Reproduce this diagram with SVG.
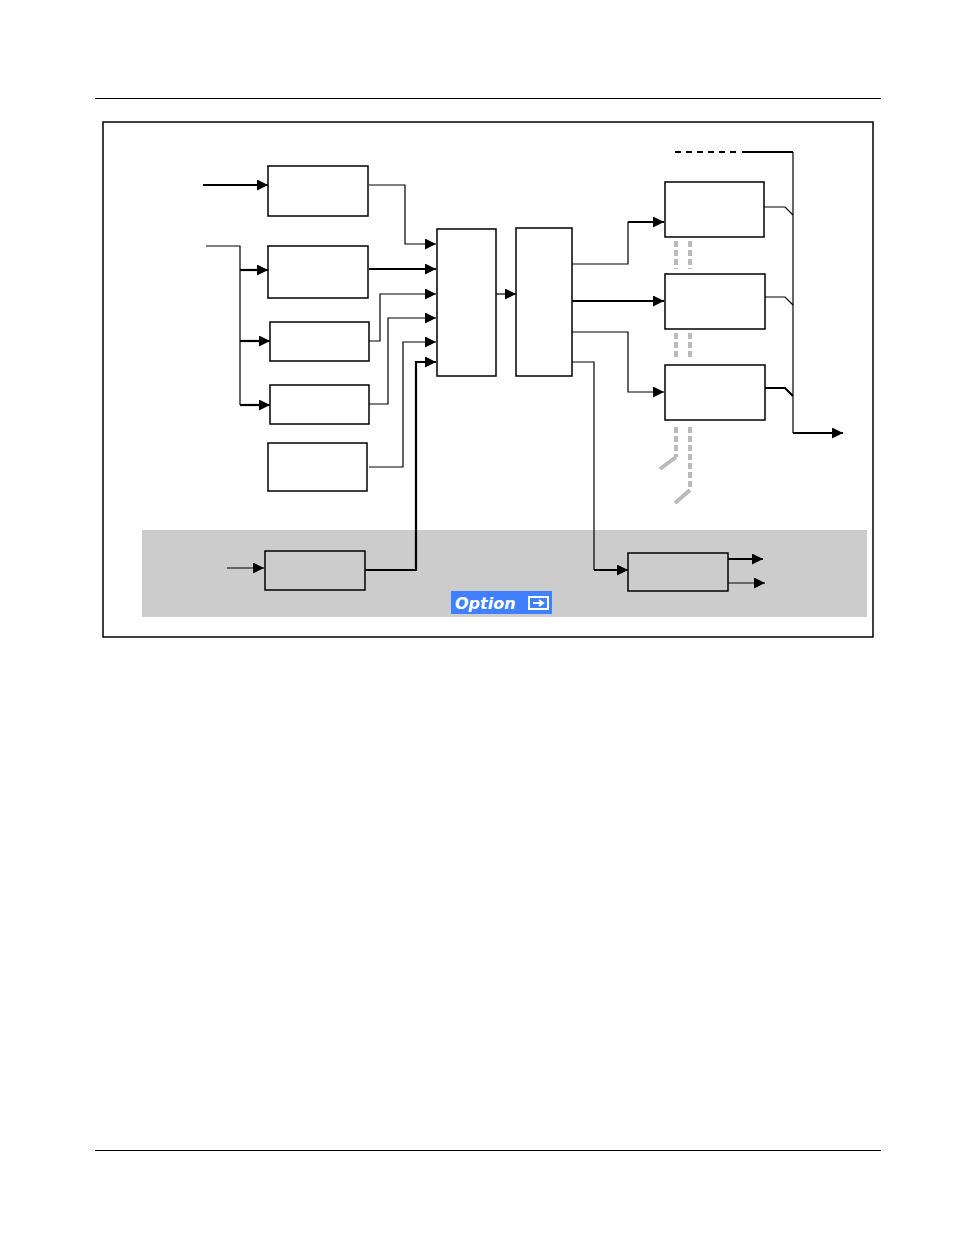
<svg xmlns="http://www.w3.org/2000/svg" width="954" height="1235" viewBox="0 0 954 1235">
<style>
.b{fill:#fff;stroke:#000;stroke-width:1.5}
.g{fill:#ccc;stroke:#000;stroke-width:1.5}
.c{fill:none;stroke:#000;stroke-width:1.2}
.t{fill:none;stroke:#000;stroke-width:2.2}
.d{fill:none;stroke:#bbb;stroke-width:4;stroke-dasharray:6,3}
.s{fill:none;stroke:#bbb;stroke-width:4}
</style>
<defs><marker id="a" viewBox="0 0 10 10" refX="10" refY="5" markerWidth="11" markerHeight="11" markerUnits="userSpaceOnUse" orient="auto"><path d="M0,0L10,5L0,10z"/></marker></defs>
<rect width="954" height="1235" fill="#fff"/>
<line x1="95" y1="98.5" x2="881" y2="98.5" stroke="#000"/>
<line x1="95" y1="1150.5" x2="881" y2="1150.5" stroke="#000"/>
<rect x="103" y="122" width="770" height="515" fill="none" stroke="#000" stroke-width="1.5"/>
<rect x="142" y="530" width="725" height="87" fill="#ccc"/>
<g id="nA"><rect class="b" x="268" y="166" width="100" height="50"/></g>
<g id="nB"><rect class="b" x="268" y="246" width="100" height="52"/></g>
<g id="nC"><rect class="b" x="270" y="322" width="99" height="39"/></g>
<g id="nD"><rect class="b" x="270" y="385" width="99" height="39"/></g>
<g id="nE"><rect class="b" x="268" y="443" width="99" height="48"/></g>
<g id="nF"><rect class="g" x="265" y="551" width="100" height="39"/></g>
<g id="mux"><rect class="b" x="437" y="229" width="59" height="147"/></g>
<g id="proc"><rect class="b" x="516" y="228" width="56" height="148"/></g>
<g id="r1"><rect class="b" x="665" y="182" width="99" height="55"/></g>
<g id="r2"><rect class="b" x="665" y="274" width="100" height="55"/></g>
<g id="r3"><rect class="b" x="665" y="365" width="100" height="55"/></g>
<g id="opt"><rect class="g" x="628" y="553" width="100" height="38"/></g>
<g id="badge"><rect x="451" y="591" width="101" height="23" fill="#4080ff"/>
<text x="455" y="609" font-family="DejaVu Sans, sans-serif" font-size="16" font-weight="bold" font-style="italic" fill="#fff">Option</text>
<rect x="529" y="597" width="19" height="12" fill="none" stroke="#fff" stroke-width="2"/><path d="M533,603h10m-4,-3l4,3l-4,3" fill="none" stroke="#fff" stroke-width="2"/></g>
<g id="connectors">
<path class="t" d="M203,185H268" marker-end="url(#a)"/>
<path class="c" d="M369,185H405V244H436" marker-end="url(#a)"/>
<path class="c" d="M206,246H240V405"/>
<path class="t" d="M240,270H268" marker-end="url(#a)"/>
<path class="t" d="M240,341H270" marker-end="url(#a)"/>
<path class="t" d="M240,405H270" marker-end="url(#a)"/>
<path class="t" d="M369,269H436" marker-end="url(#a)"/>
<path class="c" d="M369,341H380V294H436" marker-end="url(#a)"/>
<path class="c" d="M369,404H388V318H436" marker-end="url(#a)"/>
<path class="c" d="M369,467H403V342H436" marker-end="url(#a)"/>
<path class="t" d="M365,570H416V362H436" marker-end="url(#a)"/>
<path class="c" d="M227,568H264" marker-end="url(#a)"/>
<path class="c" d="M496,294H516" marker-end="url(#a)"/>
<path class="c" d="M572,264H628V222"/><path class="t" d="M628,222H664" marker-end="url(#a)"/>
<path class="t" d="M572,301H664" marker-end="url(#a)"/>
<path class="c" d="M572,332H628V392H664" marker-end="url(#a)"/>
<path class="c" d="M572,362H594V570"/><path class="t" d="M594,570H628" marker-end="url(#a)"/>
<path class="c" d="M793,152V433"/>
<path class="t" d="M793,433H843" marker-end="url(#a)"/>
<path class="t" d="M675,152H740" stroke-dasharray="6,5"/>
<path class="t" d="M742,152H793"/>
<path class="c" d="M764,207H785L793,215"/>
<path class="c" d="M765,297H785L793,305"/>
<path class="t" d="M765,388H785L793,396"/>
<path class="t" d="M728,559H763" marker-end="url(#a)"/>
<path class="c" d="M728,583H765" marker-end="url(#a)"/>
<path class="d" d="M676,241V269M690,241V269M676,333V360M690,333V360M676,427V457M690,427V490"/>
<path class="s" d="M676,457L660,469M690,490L675,503"/>
</g>
</svg>
